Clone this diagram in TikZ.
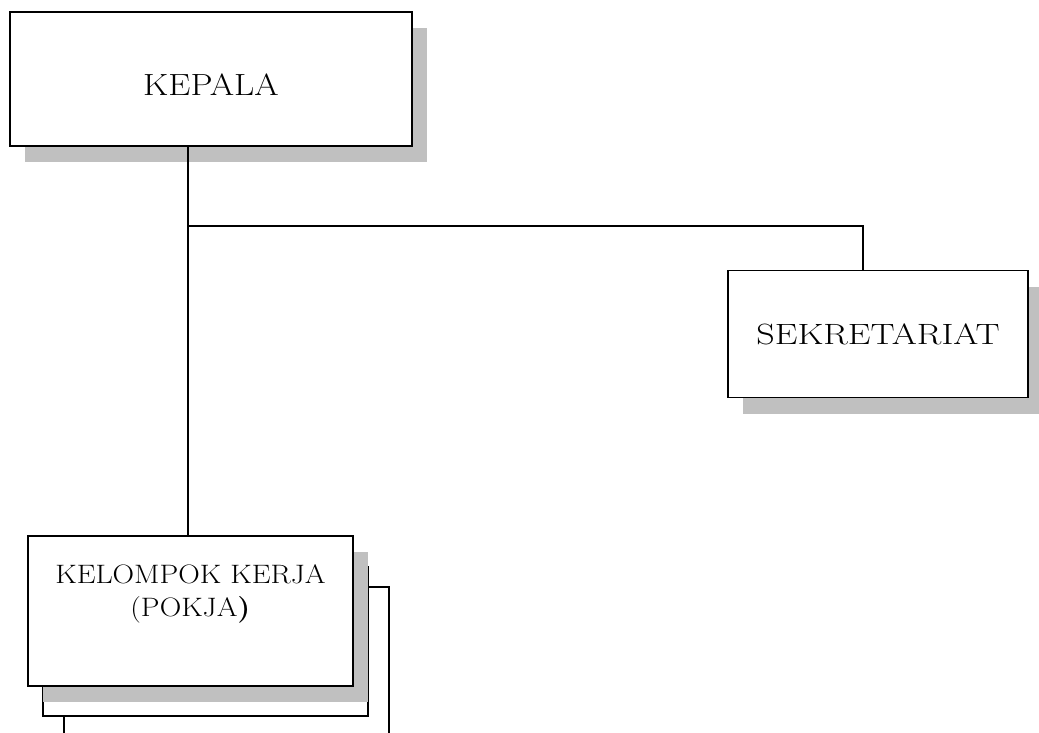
\documentclass[tikz,border=0pt]{standalone}
\usepackage{fontspec}
\usetikzlibrary{shadows,calc}
\definecolor{shadowgray}{HTML}{C0C0C0}
\begin{document}
\begin{tikzpicture}[x=0.75pt,y=-0.75pt,
  box/.style={draw, line width=1.4pt, fill=white, inner sep=0pt},
  shad/.style={drop shadow={shadow xshift=11.25pt, shadow yshift=-12pt, fill=shadowgray, opacity=1}},
  conn/.style={line width=1.2pt}]
\useasboundingbox (0,0) rectangle (1039,732);
\clip (0,0) rectangle (1039,732);
% stacked copies behind KELOMPOK KERJA
\draw[box] (64,587) rectangle (389,760);
\draw[box] (43,567) rectangle (368,716);
% boxes
\node[box, shad, minimum width=301.5pt, minimum height=100.5pt,
      text height=24pt, text depth=0pt,
      font=\fontsize{23}{27}\selectfont] (kepala) at (211,79) {\scalebox{1.145}[1]{KEPALA}};
\node[box, shad, minimum width=225pt, minimum height=95.25pt,
      font=\fontsize{22}{26}\selectfont] (sek) at (878,334) {\scalebox{1.23}[1]{SEKRETARIAT}};
\node[box, shad, minimum width=243.75pt, minimum height=112.5pt] (pokja) at (190.5,611) {};
\node[align=center, font=\fontsize{20}{25}\selectfont] (pokjatxt) at (190.5,594)
      {\scalebox{1.12}[1]{KELOMPOK KERJA}\\\scalebox{1.12}[1]{(POKJA\textbf{)}}};
% connectors
\coordinate (jn) at ($(kepala.south -| pokja.north)+(-2.5,0)$);
\draw[conn] (jn) -- ($(pokja.north)+(-2.5,0)$);
\coordinate (br) at ($(kepala.south -| pokja.north)+(-2.5,79)$);
\draw[conn] (br) -| ($(sek.north)+(-15,0)$);
\end{tikzpicture}
\end{document}
